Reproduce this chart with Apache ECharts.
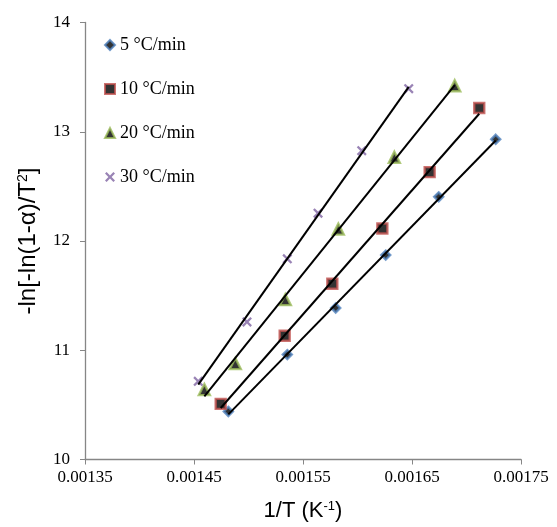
<!DOCTYPE html>
<html>
<head>
<meta charset="utf-8">
<script src="https://cdn.jsdelivr.net/npm/echarts@6/dist/echarts.min.js"></script>
<style>html,body{margin:0;padding:0;background:#fff}#c{width:557px;height:527px}</style>
</head>
<body>
<div id="c"></div>
<script>
var seriesNames = ['5 °C/min', '10 °C/min', '20 °C/min', '30 °C/min'];
var x5  = [0.0014815, 0.0015356, 0.0015800, 0.0016259, 0.0016745, 0.0017268];
var y5  = [10.44, 10.96, 11.387, 11.871, 12.404, 12.931];
var x10 = [0.0014745, 0.0015332, 0.0015769, 0.0016228, 0.0016662, 0.0017117];
var y10 = [10.509, 11.133, 11.609, 12.114, 12.630, 13.218];
var x20 = [0.0014595, 0.0014879, 0.0015338, 0.0015824, 0.0016338, 0.0016892];
var y20 = [10.640, 10.878, 11.463, 12.109, 12.767, 13.421];
var x30 = [0.0014539, 0.0014986, 0.0015356, 0.0015638, 0.0016039, 0.0016470];
var y30 = [10.716, 11.259, 11.837, 12.255, 12.827, 13.394];
var xTicks = [0.00135, 0.00145, 0.00155, 0.00165, 0.00175];
var yTicks = [10, 11, 12, 13, 14];

var xs = [x5, x10, x20, x30];
var ys = [y5, y10, y20, y30];
var colors = ['#4F81BD', '#C0504D', '#9BBB59', '#8064A2'];
var symbols = ['diamond', 'rect', 'triangle',
  'path://M0,1.6L1.6,0L5,3.4L8.4,0L10,1.6L6.6,5L10,8.4L8.4,10L5,6.6L1.6,10L0,8.4L3.4,5Z'];
var sizes = [9, 10, 11, 10];
var serif = 'Liberation Serif';
var tickRich = { s: { fontFamily: serif, fontSize: 17, color: '#000' } };

function fit(x, y) {
  var n = x.length, sx = 0, sy = 0, sxx = 0, sxy = 0;
  for (var i = 0; i < n; i++) { sx += x[i]; sy += y[i]; sxx += x[i]*x[i]; sxy += x[i]*y[i]; }
  var b = (n*sxy - sx*sy) / (n*sxx - sx*sx);
  var a = (sy - b*sx) / n;
  var x0 = Math.min.apply(null, x), x1 = Math.max.apply(null, x);
  return [[x0, a + b*x0], [x1, a + b*x1]];
}

var series = [];
for (var k = 0; k < 4; k++) {
  var pts = xs[k].map(function (v, i) { return [v, ys[k][i]]; });
  var isX = k === 3;
  series.push({
    name: seriesNames[k], type: 'scatter', data: pts,
    symbol: symbols[k], symbolSize: sizes[k], z: 2,
    itemStyle: isX ? { color: colors[k] } : { color: '#000', borderColor: colors[k], borderWidth: 2.4 }
  });
}
for (var k2 = 0; k2 < 4; k2++) {
  series.push({
    type: 'line', data: fit(xs[k2], ys[k2]), showSymbol: false, symbol: 'none',
    lineStyle: { color: '#000', width: 2 }, z: 3, silent: true
  });
}

var chart = echarts.init(document.getElementById('c'), null, { renderer: 'canvas' });
chart.setOption({
  animation: false,
  backgroundColor: '#fff',
  textStyle: { fontFamily: serif },
  grid: { left: 85, right: 36, top: 22.5, bottom: 67, containLabel: false },
  legend: {
    data: seriesNames, orient: 'vertical', left: 99, top: 31,
    itemWidth: 10, itemHeight: 10, itemGap: 26,
    textStyle: { fontFamily: serif, fontSize: 18, color: '#000' }
  },
  xAxis: {
    type: 'value', min: 0.00135, max: 0.00175, interval: 0.0001,
    name: '1/T (K{sup|-1})', nameLocation: 'middle', nameGap: 40,
    nameTextStyle: { fontFamily: 'Liberation Sans', fontSize: 22, color: '#000',
      rich: { sup: { fontFamily: 'Liberation Sans', fontSize: 13, color: '#000', padding: [0, 0, 10, 0] } } },
    axisLine: { lineStyle: { color: '#868686', width: 1.3 } },
    axisTick: { show: true, inside: false, length: 5, lineStyle: { color: '#868686' } },
    axisLabel: { fontFamily: serif, fontSize: 17, color: '#000', margin: 10, rich: tickRich,
      formatter: function (v) { var t = xTicks.filter(function (q) { return Math.abs(q - v) < 1e-9; })[0]; return t !== undefined ? '{s|' + t.toFixed(5) + '}' : ''; } },
    splitLine: { show: false }
  },
  yAxis: {
    type: 'value', min: 10, max: 14, interval: 1,
    name: '-ln[-ln(1-α)/T{sup|2}]', nameLocation: 'middle', nameGap: 44, nameRotate: 90,
    nameTextStyle: { fontFamily: 'Liberation Sans', fontSize: 24, color: '#000',
      rich: { sup: { fontFamily: 'Liberation Sans', fontSize: 14, color: '#000', padding: [0, 0, 11, 0] } } },
    axisLine: { show: true, lineStyle: { color: '#868686', width: 1.3 } },
    axisTick: { show: true, inside: false, length: 5, lineStyle: { color: '#868686' } },
    axisLabel: { fontFamily: serif, fontSize: 17, color: '#000', margin: 15, rich: tickRich,
      formatter: function (v) { return yTicks.indexOf(v) >= 0 ? '{s|' + v + '}' : ''; } },
    splitLine: { show: false }
  },
  series: series
});
</script>
</body>
</html>
